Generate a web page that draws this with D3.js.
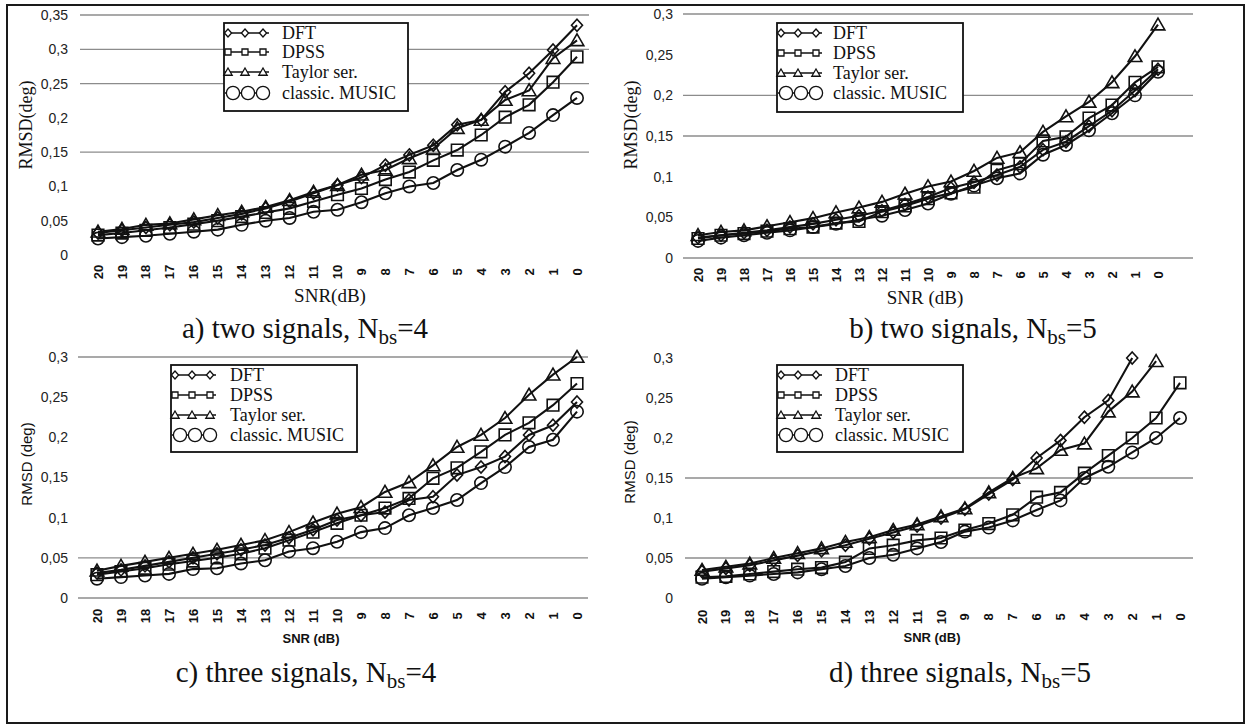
<!DOCTYPE html>
<html><head><meta charset="utf-8">
<script src="https://cdn.jsdelivr.net/npm/d3@7"></script>
<style>
html,body{margin:0;padding:0;background:#fff;}
svg{display:block;}
.serif{font-family:"Liberation Serif","Times New Roman","DejaVu Serif",serif;}
.sans{font-family:"Liberation Sans",Arial,"DejaVu Sans",sans-serif;}
</style></head>
<body>
<svg id="chart" width="1246" height="726"></svg>
<script>
// ---------- data ----------
const snr = ["20","19","18","17","16","15","14","13","12","11","10","9","8","7","6","5","4","3","2","1","0"];
const seriesNames = ["DFT", "DPSS", "Taylor ser.", "classic. MUSIC"];
const yTicksA = [0, 0.05, 0.1, 0.15, 0.2, 0.25, 0.3, 0.35];
const yTicks = [0, 0.05, 0.1, 0.15, 0.2, 0.25, 0.3];
const gridA = [0.15, 0.25, 0.3, 0.35];
const gridB = [0, 0.15, 0.2, 0.3];
const gridC = [0, 0.05, 0.3];
const gridD = [0.05, 0.15];

// a) two signals, Nbs=4
const aDFT    = [0.032,0.036,0.040,0.044,0.048,0.054,0.060,0.068,0.078,0.090,0.102,0.113,0.131,0.146,0.160,0.190,0.197,0.238,0.265,0.299,0.335];
const aDPSS   = [0.029,0.032,0.036,0.040,0.045,0.050,0.056,0.062,0.068,0.078,0.088,0.097,0.110,0.121,0.138,0.153,0.175,0.201,0.219,0.252,0.289];
const aTaylor = [0.034,0.038,0.044,0.046,0.052,0.058,0.063,0.070,0.080,0.092,0.102,0.117,0.124,0.141,0.155,0.185,0.197,0.226,0.240,0.287,0.313];
const aMUSIC  = [0.024,0.026,0.028,0.031,0.034,0.037,0.044,0.050,0.054,0.063,0.066,0.077,0.090,0.100,0.105,0.124,0.139,0.158,0.178,0.204,0.229];
// b) two signals, Nbs=5
const bDFT    = [0.025,0.028,0.031,0.034,0.038,0.042,0.047,0.052,0.058,0.066,0.075,0.086,0.093,0.102,0.112,0.133,0.143,0.162,0.181,0.206,0.232];
const bDPSS   = [0.024,0.028,0.030,0.033,0.036,0.038,0.043,0.045,0.057,0.064,0.073,0.080,0.087,0.108,0.116,0.144,0.149,0.172,0.188,0.216,0.235];
const bTaylor = [0.028,0.032,0.034,0.039,0.044,0.049,0.056,0.062,0.069,0.079,0.088,0.094,0.107,0.123,0.130,0.155,0.174,0.192,0.216,0.248,0.287];
const bMUSIC  = [0.021,0.025,0.028,0.031,0.034,0.038,0.042,0.047,0.052,0.059,0.067,0.079,0.089,0.098,0.104,0.127,0.139,0.157,0.178,0.200,0.229];
// c) three signals, Nbs=4
const cDFT    = [0.031,0.035,0.040,0.045,0.050,0.055,0.060,0.066,0.075,0.085,0.097,0.103,0.107,0.122,0.126,0.153,0.163,0.176,0.203,0.215,0.244];
const cDPSS   = [0.029,0.033,0.037,0.042,0.046,0.050,0.055,0.062,0.072,0.082,0.093,0.103,0.112,0.124,0.149,0.162,0.182,0.203,0.218,0.240,0.267];
const cTaylor = [0.034,0.040,0.045,0.050,0.055,0.060,0.066,0.072,0.082,0.094,0.105,0.113,0.132,0.144,0.165,0.188,0.203,0.224,0.253,0.278,0.300];
const cMUSIC  = [0.024,0.026,0.028,0.030,0.036,0.037,0.043,0.047,0.058,0.062,0.070,0.082,0.087,0.103,0.112,0.122,0.143,0.163,0.188,0.197,0.232];
// d) three signals, Nbs=5
const dDFT    = [0.033,0.037,0.041,0.047,0.053,0.059,0.066,0.074,0.082,0.090,0.100,0.111,0.130,0.148,0.175,0.197,0.226,0.247,0.300,null,null];
const dDPSS   = [0.026,0.027,0.030,0.033,0.036,0.038,0.045,0.062,0.066,0.072,0.075,0.085,0.093,0.104,0.126,0.132,0.156,0.178,0.200,0.225,0.269];
const dTaylor = [0.035,0.039,0.043,0.050,0.056,0.062,0.070,0.076,0.085,0.092,0.102,0.112,0.132,0.150,0.162,0.185,0.193,0.233,0.258,0.296,null];
const dMUSIC  = [0.024,0.026,0.028,0.030,0.032,0.036,0.040,0.050,0.054,0.062,0.070,0.083,0.088,0.097,0.110,0.122,0.150,0.164,0.182,0.200,0.225];

const captions = ["a) two signals, N|bs|=4", "b) two signals, N|bs|=5", "c) three signals, N|bs|=4", "d) three signals, N|bs|=5"];
const xTitles = ["SNR(dB)", "SNR (dB)", "SNR (dB)", "SNR (dB)"];
const yTitles = ["RMSD(deg)", "RMSD(deg)", "RMSD (deg)", "RMSD (deg)"];

// ---------- layout ----------
const panels = [
  {series:[aDFT,aDPSS,aTaylor,aMUSIC], ticks:yTicksA, grid:gridA, yMax:0.35,
   x0:98, x1:577, y0:255, y1:15, gx0:80, gx1:589, tickX:68, xLabY:272,
   leg:{x:224,y:23,w:184,h:88,rows:[33,52,72,93],tx:282},
   xt:{x:330,y:302,cls:"serif",size:19,weight:"normal"},
   yt:{x:26,y:125,cls:"serif",size:18},
   cap:{x:305,y:338}},
  {series:[bDFT,bDPSS,bTaylor,bMUSIC], ticks:yTicks, grid:gridB, yMax:0.3,
   x0:698, x1:1158, y0:258, y1:14, gx0:683, gx1:1193, tickX:673, xLabY:275,
   leg:{x:777,y:23,w:186,h:89,rows:[33,53,73,93],tx:833},
   xt:{x:925,y:304,cls:"serif",size:19,weight:"normal"},
   yt:{x:631,y:125,cls:"serif",size:18},
   cap:{x:973,y:338}},
  {series:[cDFT,cDPSS,cTaylor,cMUSIC], ticks:yTicks, grid:gridC, yMax:0.3,
   x0:97, x1:577, y0:598, y1:357, gx0:78, gx1:588, tickX:68, xLabY:616,
   leg:{x:171,y:365,w:186,h:87,rows:[375,395,415,435],tx:230},
   xt:{x:311,y:643,cls:"sans",size:13,weight:"bold"},
   yt:{x:27,y:464,cls:"sans",size:15},
   cap:{x:306,y:682}},
  {series:[dDFT,dDPSS,dTaylor,dMUSIC], ticks:yTicks, grid:gridD, yMax:0.3,
   x0:702, x1:1180, y0:598, y1:358, gx0:685, gx1:1193, tickX:673, xLabY:617,
   leg:{x:777,y:365,w:186,h:87,rows:[375,395,415,435],tx:835},
   xt:{x:932,y:642,cls:"sans",size:13,weight:"bold"},
   yt:{x:630,y:462,cls:"sans",size:15},
   cap:{x:960,y:682}}
];

const svg = d3.select("#chart");
svg.append("rect").attr("width",1246).attr("height",726).attr("fill","#fff");
svg.append("rect").attr("x",7).attr("y",5).attr("width",1237).attr("height",718)
  .attr("fill","none").attr("stroke","#1a1a1a").attr("stroke-width",2);

function markerPath(kind, s) {
  switch (kind) {
    case 0: return `M0,${-s*1.1}L${s},0L0,${s*1.1}L${-s},0Z`;
    case 1: return `M${-s},${-s}H${s}V${s}H${-s}Z`;
    case 2: return `M0,${-s*1.05}L${s*1.1},${s*0.85}L${-s*1.1},${s*0.85}Z`;
    default: return d3.arc()({innerRadius:0,outerRadius:s,startAngle:0,endAngle:2*Math.PI});
  }
}
const chartSizes = [5.5, 5.8, 6.2, 6.2];
const legSizes = [3.6, 3.0, 3.8, 6.6];

panels.forEach((p, pi) => {
  const g = svg.append("g");
  const x = d3.scalePoint().domain(snr).range([p.x0, p.x1]);
  const y = d3.scaleLinear().domain([0, p.yMax]).range([p.y0, p.y1]);

  g.append("g").selectAll("line").data(p.grid).join("line")
    .attr("x1", p.gx0).attr("x2", p.gx1)
    .attr("y1", d => y(d)).attr("y2", d => y(d))
    .attr("stroke", "#8c8c8c").attr("stroke-width", 1.3);

  const yAxis = d3.axisLeft(y).tickValues(p.ticks).tickSize(0)
    .tickFormat(d => d === 0 ? "0" : String(+d.toFixed(2)).replace(".", ","));
  const ya = g.append("g").attr("transform", `translate(${p.tickX},0)`).call(yAxis);
  ya.select(".domain").remove();
  ya.attr("font-family", null).attr("font-size", null);
  ya.selectAll("text").attr("x", 0).attr("class", "sans").attr("font-size", 14)
    .attr("fill", "#222").attr("text-anchor", "end");

  g.append("g").selectAll("text").data(snr).join("text")
    .attr("transform", d => `translate(${x(d)},${p.xLabY}) rotate(-90)`)
    .attr("text-anchor", "middle").attr("dy", "0.35em")
    .attr("class", "sans").attr("font-size", 13).attr("font-weight", "bold")
    .attr("fill", "#111").text(d => d);

  const line = d3.line().defined(d => d != null)
    .x((d, i) => x(snr[i])).y(d => y(d));
  p.series.forEach((vals) => {
    g.append("path").datum(vals).attr("d", line)
      .attr("fill", "none").attr("stroke", "#111").attr("stroke-width", 2.1);
  });
  p.series.forEach((vals, si) => {
    g.append("g").selectAll("path")
      .data(vals.map((v, i) => ({v, i})).filter(d => d.v != null))
      .join("path")
      .attr("transform", d => `translate(${x(snr[d.i])},${y(d.v)})`)
      .attr("d", markerPath(si, chartSizes[si]))
      .attr("fill", "none").attr("stroke", "#111").attr("stroke-width", 1.6);
  });

  const L = p.leg;
  const lg = g.append("g");
  lg.append("rect").attr("x", L.x).attr("y", L.y).attr("width", L.w).attr("height", L.h)
    .attr("fill", "#fff").attr("stroke", "#111").attr("stroke-width", 1.8);
  seriesNames.forEach((name, si) => {
    const ry = L.rows[si];
    const xs = si === 3 ? [L.x + 9, L.x + 24, L.x + 39] : [L.x + 4, L.x + 21, L.x + 39];
    lg.append("line").attr("x1", L.x + 1).attr("x2", L.x + 45).attr("y1", ry).attr("y2", ry)
      .attr("stroke", "#111").attr("stroke-width", 1.6);
    xs.forEach(mx => {
      lg.append("path").attr("transform", `translate(${mx},${ry})`)
        .attr("d", markerPath(si, legSizes[si]))
        .attr("fill", "#fff").attr("stroke", "#111").attr("stroke-width", 1.3);
    });
    lg.append("text").attr("x", L.tx).attr("y", ry).attr("dy", "0.35em")
      .attr("class", "serif").attr("font-size", 18).attr("fill", "#111").text(name);
  });

  g.append("text").attr("x", p.xt.x).attr("y", p.xt.y).attr("text-anchor", "middle")
    .attr("class", p.xt.cls).attr("font-size", p.xt.size).attr("font-weight", p.xt.weight)
    .attr("fill", "#111").text(xTitles[pi]);
  g.append("text").attr("transform", `translate(${p.yt.x},${p.yt.y}) rotate(-90)`)
    .attr("text-anchor", "middle").attr("dy", "0.35em")
    .attr("class", p.yt.cls).attr("font-size", p.yt.size).attr("fill", "#111")
    .text(yTitles[pi]);

  const parts = captions[pi].split("|");
  const cap = g.append("text").attr("x", p.cap.x).attr("y", p.cap.y).attr("text-anchor", "middle")
    .attr("class", "serif").attr("font-size", 29).attr("fill", "#111");
  cap.append("tspan").text(parts[0]);
  cap.append("tspan").attr("font-size", 21).attr("dy", 6).text(parts[1]);
  cap.append("tspan").attr("dy", -6).text(parts[2]);
});
</script>
</body></html>
